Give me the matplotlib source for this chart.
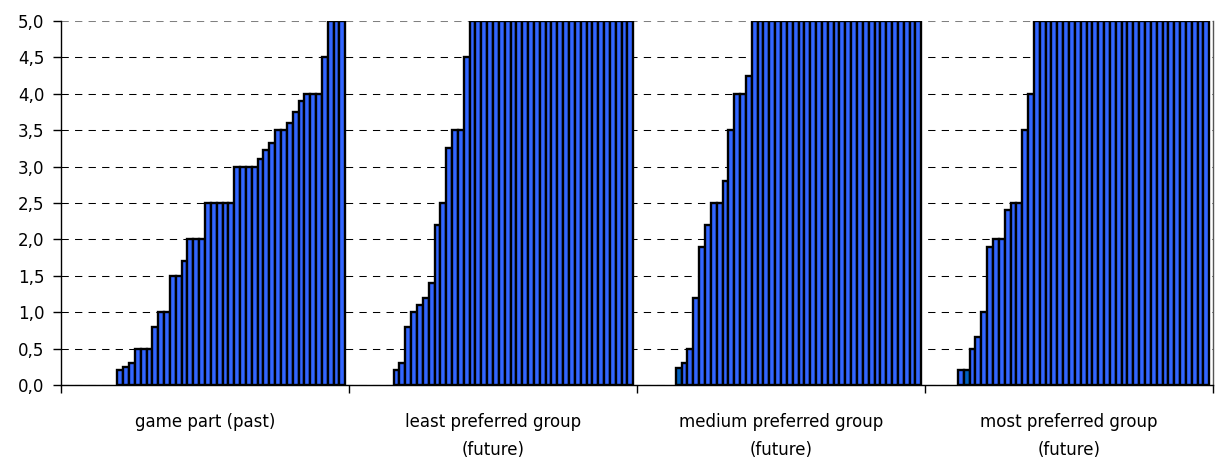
import matplotlib
matplotlib.use("Agg")
import matplotlib.pyplot as plt
from matplotlib.ticker import FixedLocator, FuncFormatter

# categories (each group holds 48 series, sorted ascending)
group_labels = ["game part (past)",
                "least preferred group\n(future)",
                "medium preferred group\n(future)",
                "most preferred group\n(future)"]

past = [0, 0, 0, 0, 0, 0, 0, 0, 0,
        0.2, 0.25, 0.3, 0.5, 0.5, 0.5, 0.8, 1.0, 1.0, 1.5, 1.5, 1.7, 2.0, 2.0, 2.0,
        2.5, 2.5, 2.5, 2.5, 2.5, 3.0, 3.0, 3.0, 3.0, 3.1, 3.23, 3.33, 3.5, 3.5, 3.6,
        3.75, 3.9, 4.0, 4.0, 4.0, 4.5, 5.0, 5.0, 5.0]

least = [0, 0, 0, 0, 0, 0, 0,
         0.2, 0.3, 0.8, 1.0, 1.1, 1.2, 1.4, 2.2, 2.5, 3.25, 3.5, 3.5, 4.5,
         5.0, 5.0, 5.0, 5.0, 5.0, 5.0, 5.0, 5.0, 5.0, 5.0, 5.0, 5.0, 5.0, 5.0,
         5.0, 5.0, 5.0, 5.0, 5.0, 5.0, 5.0, 5.0, 5.0, 5.0, 5.0, 5.0, 5.0, 5.0]

medium = [0, 0, 0, 0, 0, 0,
          0.24, 0.3, 0.5, 1.2, 1.9, 2.2, 2.5, 2.5, 2.8, 3.5, 4.0, 4.0, 4.25,
          5.0, 5.0, 5.0, 5.0, 5.0, 5.0, 5.0, 5.0, 5.0, 5.0, 5.0, 5.0, 5.0, 5.0, 5.0,
          5.0, 5.0, 5.0, 5.0, 5.0, 5.0, 5.0, 5.0, 5.0, 5.0, 5.0, 5.0, 5.0, 5.0]

most = [0, 0, 0, 0, 0,
        0.2, 0.2, 0.5, 0.66, 1.0, 1.9, 2.0, 2.0, 2.4, 2.5, 2.5, 3.5, 4.0,
        5.0, 5.0, 5.0, 5.0, 5.0, 5.0, 5.0, 5.0, 5.0, 5.0, 5.0, 5.0, 5.0, 5.0, 5.0,
        5.0, 5.0, 5.0, 5.0, 5.0, 5.0, 5.0, 5.0, 5.0, 5.0, 5.0, 5.0, 5.0, 5.0, 5.0]

groups = [past, least, medium, most]

bar_color = "#3366FF"
dark_color = "#0060C0"   # series 7 has its own colour in the original
dark_series = 6
group_w = 49.27          # width of one category in bar units
offset = (group_w - 48) / 2

plt.rcParams['font.family'] = ['DejaVu Sans']
fig = plt.figure(figsize=(12.15, 4.62), dpi=100)
ax = fig.add_axes([61 / 1215, 1 - 385 / 462, 1152 / 1215, 364 / 462])

for g, vals in enumerate(groups):
    for i, v in enumerate(vals):
        if v <= 0:
            continue
        c = dark_color if i == dark_series else bar_color
        ax.bar(g * group_w + offset + i, v, width=1.0, align='edge',
               color=c, edgecolor='black', linewidth=1.7, zorder=3)

ax.set_xlim(0, 4 * group_w)
ax.set_ylim(0, 5)
ax.set_yticks([0, 0.5, 1, 1.5, 2, 2.5, 3, 3.5, 4, 4.5, 5])
ax.yaxis.set_major_formatter(FuncFormatter(lambda v, p: f"{v:.1f}".replace(".", ",")))
ax.yaxis.grid(True, color='black', linestyle=(0, (7, 6)), linewidth=0.75)
ax.set_axisbelow(True)
# the top gridline looks grey in the original
ax.get_ygridlines()[-1].set_color('#808080')

# ticks at the category borders, labels in the middle
ax.xaxis.set_major_locator(FixedLocator([g * group_w for g in range(5)]))
ax.xaxis.set_major_formatter(FuncFormatter(lambda v, p: ""))
ax.xaxis.set_minor_locator(FixedLocator([(g + 0.5) * group_w for g in range(4)]))
ax.set_xticklabels(group_labels, minor=True, linespacing=1.7)
ax.tick_params(axis='x', which='major', length=6, width=1, direction='out')
ax.tick_params(axis='x', which='minor', length=0, pad=20, labelsize=12)
ax.tick_params(axis='y', length=6, width=1, direction='out', pad=6, labelsize=12)

ax.spines['top'].set_visible(False)
ax.spines['right'].set_color('#555555')
ax.spines['right'].set_linewidth(1)
ax.spines['left'].set_linewidth(1)
ax.spines['bottom'].set_linewidth(1)

fig.savefig("out.png", dpi=100)
